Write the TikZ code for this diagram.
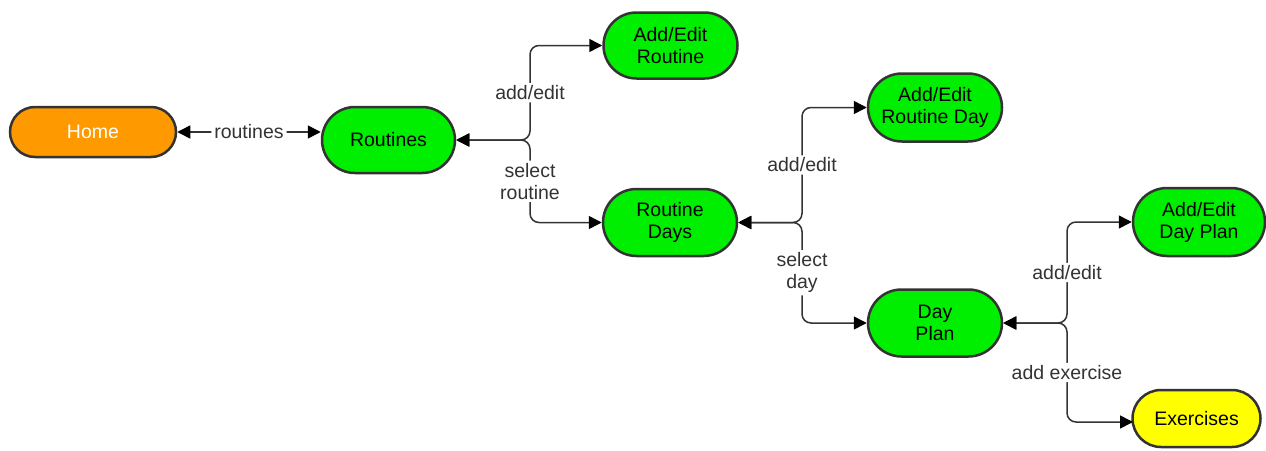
\documentclass[tikz,border=0pt]{standalone}
\usepackage{fontspec}
\setmainfont{Liberation Sans}
\usetikzlibrary{arrows.meta}
\definecolor{nodegreen}{HTML}{00EE00}
\definecolor{nodeorange}{HTML}{FF9900}
\definecolor{nodeyellow}{HTML}{FFFF00}
\definecolor{linegray}{HTML}{333333}
\tikzset{
  screen/.style={draw=linegray, line width=2.5pt, fill=nodegreen, align=center,
    inner sep=0pt, font=\fontsize{19.5}{22}\selectfont, text=black},
  tip/.style={Triangle[length=13pt,width=13pt,color=black]},
  conn/.style={draw=linegray, line width=1.5pt, rounded corners=9pt,
    {Triangle[length=13pt,width=13pt,color=black]}-{Triangle[length=13pt,width=13pt,color=black]}},
  lbl/.style={fill=white, inner sep=2.5pt, text=linegray, align=center,
    font=\fontsize{19.5}{22}\selectfont}
}
\begin{document}
\begin{tikzpicture}[x=1pt,y=-1pt]
\useasboundingbox (0,0) rectangle (1266,450);
% nodes
\node[screen, fill=nodeorange, text=white, minimum width=166pt, minimum height=50pt, rounded corners=25pt] (home) at (93,132) {Home};
\node[screen, minimum width=133pt, minimum height=66pt, rounded corners=33pt] (routines) at (388.5,140) {Routines};
\node[screen, minimum width=134pt, minimum height=66pt, rounded corners=33pt] (aer) at (670.5,45.5) {Add/Edit\\Routine};
\node[screen, minimum width=134pt, minimum height=67pt, rounded corners=33.5pt] (rd) at (670,222.5) {Routine\\Days};
\node[screen, minimum width=134pt, minimum height=68pt, rounded corners=34pt] (aerd) at (935,107.5) {Add/Edit\\Routine Day};
\node[screen, minimum width=134pt, minimum height=67pt, rounded corners=33.5pt] (dp) at (935,323) {Day\\Plan};
\node[screen, minimum width=132pt, minimum height=68pt, rounded corners=34pt] (aedp) at (1199,222) {Add/Edit\\Day Plan};
\node[screen, fill=nodeyellow, minimum width=128pt, minimum height=57pt, rounded corners=28.5pt] (ex) at (1196.5,418.5) {Exercises};
% junction coordinates
\coordinate (j1) at (530,0);
\coordinate (j2) at (802,0);
\coordinate (j3) at (1067,0);
\coordinate (exin) at (1133,422);
% connectors
\draw[conn] (home.east) -- node[lbl, inner sep=3pt] {routines} (routines.west |- home.east);
\draw[conn] (routines.east) -- (j1 |- routines.east) -- node[lbl] {add/edit} (j1 |- aer.west) -- (aer.west);
\draw[conn] (routines.east) -- (j1 |- routines.east) -- node[lbl] {select\\routine} (j1 |- rd.west) -- (rd.west);
\draw[conn] (rd.east) -- (j2 |- rd.east) -- node[lbl] {add/edit} (j2 |- aerd.west) -- (aerd.west);
\draw[conn] (rd.east) -- (j2 |- rd.east) -- node[lbl] {select\\day} (j2 |- dp.west) -- (dp.west);
\draw[conn] (dp.east) -- (j3 |- dp.east) -- node[lbl] {add/edit} (j3 |- aedp.west) -- (aedp.west);
\draw[conn] (dp.east) -- (j3 |- dp.east) -- node[lbl] {add exercise} (j3 |- exin) -- (exin);
\end{tikzpicture}
\end{document}
